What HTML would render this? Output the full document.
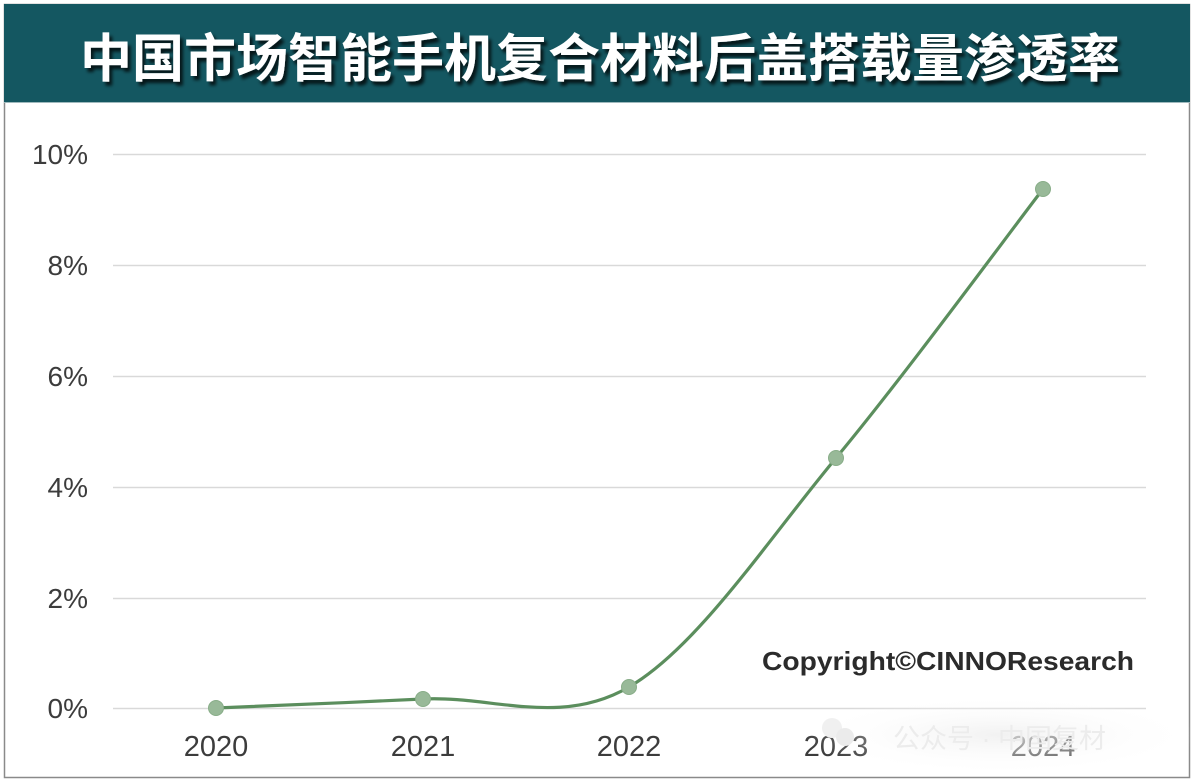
<!DOCTYPE html>
<html><head><meta charset="utf-8"><style>
html,body{margin:0;padding:0;background:#fff;}
body{width:1194px;height:783px;overflow:hidden;}
svg{display:block;}
</style></head><body>
<svg width="1194" height="783" viewBox="0 0 1194 783" xmlns="http://www.w3.org/2000/svg">
<defs>
<filter id="sh" x="-5%" y="-20%" width="110%" height="150%">
<feGaussianBlur in="SourceAlpha" stdDeviation="1.5"/>
<feOffset dx="3" dy="4" result="b"/>
<feFlood flood-color="#000" flood-opacity="0.75"/>
<feComposite in2="b" operator="in"/>
<feMerge><feMergeNode/><feMergeNode in="SourceGraphic"/></feMerge>
</filter>
<radialGradient id="wm" cx="0.5" cy="0.5" r="0.5">
<stop offset="0" stop-color="#eeeeee" stop-opacity="0.8"/>
<stop offset="1" stop-color="#ffffff" stop-opacity="0"/>
</radialGradient>
</defs>
<rect x="0" y="0" width="1194" height="783" fill="#fff"/>
<rect x="4.5" y="4.5" width="1185" height="773" fill="#fff" stroke="#8a8a8a" stroke-width="1.5"/>
<rect x="4" y="4" width="1186" height="98" fill="#145761"/>
<line x1="4" y1="102.5" x2="1190" y2="102.5" stroke="#9fb9bd" stroke-width="1"/>
<text x="80" y="77" textLength="1040" lengthAdjust="spacingAndGlyphs" font-family="'Liberation Sans','Noto Sans CJK SC',sans-serif" font-weight="bold" font-size="52" fill="#fff" filter="url(#sh)">中国市场智能手机复合材料后盖搭载量渗透率</text>

<g stroke="#d9d9d9" stroke-width="1.5">
<line x1="113" y1="154.5" x2="1146" y2="154.5"/>
<line x1="113" y1="265.5" x2="1146" y2="265.5"/>
<line x1="113" y1="376.5" x2="1146" y2="376.5"/>
<line x1="113" y1="487.5" x2="1146" y2="487.5"/>
<line x1="113" y1="598.5" x2="1146" y2="598.5"/>
<line x1="113" y1="708.5" x2="1146" y2="708.5"/>
</g>
<g font-family="'Liberation Sans',sans-serif" font-size="28" fill="#3c3c3c" text-anchor="end">
<text x="88" y="164">10%</text>
<text x="88" y="275">8%</text>
<text x="88" y="386">6%</text>
<text x="88" y="497">4%</text>
<text x="88" y="608">2%</text>
<text x="88" y="718">0%</text>
</g>
<g font-family="'Liberation Sans',sans-serif" font-size="29" fill="#3c3c3c" text-anchor="middle">
<text x="216" y="756">2020</text>
<text x="423" y="756">2021</text>
<text x="629" y="756">2022</text>
<text x="836" y="756">2023</text>
<text x="1043" y="756">2024</text>
</g>

<ellipse cx="1000" cy="735" rx="200" ry="40" fill="url(#wm)"/>
<text x="893" y="748" font-family="'Liberation Sans','Noto Sans CJK SC',sans-serif" font-size="27" fill="#ececec">公众号 · 中国复材</text>
<circle cx="832" cy="728" r="10" fill="#f0f0f0"/>
<circle cx="845" cy="737" r="9" fill="#ebebeb"/>

<path d="M216,708 C250.5,706.5 354.2,702.5 423,699 C491.8,695.5 560.2,727.2 629,687 C697.8,646.8 767,541 836,458 C905,375 1008.5,233.8 1043,189" fill="none" stroke="#5b8e5d" stroke-width="3.2" stroke-linecap="round"/>
<g fill="#98b998" stroke="#88ad88" stroke-width="1">
<circle cx="216" cy="708" r="7.5"/>
<circle cx="423" cy="699" r="7.5"/>
<circle cx="629" cy="687" r="7.5"/>
<circle cx="836" cy="458" r="7.5"/>
<circle cx="1043" cy="189" r="7.5"/>
</g>

<text x="762" y="670" textLength="372" lengthAdjust="spacingAndGlyphs" font-family="'Liberation Sans',sans-serif" font-weight="bold" font-size="26" fill="#2b2b2b">Copyright©CINNOResearch</text>
</svg>
</body></html>
